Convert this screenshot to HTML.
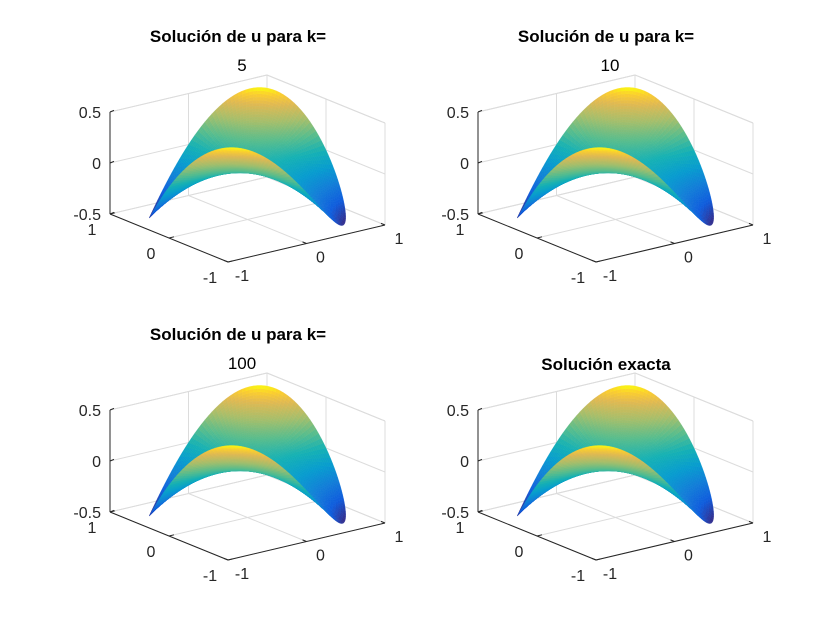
<!DOCTYPE html>
<html><head><meta charset="utf-8"><style>
body{margin:0;background:#fff;}
svg{display:block;font-family:"Liberation Sans",Arial,sans-serif;}
</style></head><body>
<svg id="fig" width="840" height="630" viewBox="0 0 840 630"></svg>
<script>
// ---- data ----
const gridX = [-1, -0.5, 0, 0.5, 1];
const gridY = [-1, -0.5, 0, 0.5, 1];
// z values on grid (row = y index, col = x index)
const zGrid = [
  [ 1.00,  0.50, 0, -0.50, -1.00],
  [ 0.50,  0.25, 0, -0.25, -0.50],
  [ 0.00,  0.00, 0,  0.00,  0.00],
  [-0.50, -0.25, 0,  0.25,  0.50],
  [-1.00, -0.50, 0,  0.50,  1.00]
];
const xTicks = [-1, 0, 1];
const yTicks = [-1, 0, 1];
const zTicks = [-0.5, 0, 0.5];
const xTickLabels = ["-1", "0", "1"];
const yTickLabels = ["-1", "0", "1"];
const zTickLabels = ["-0.5", "0", "0.5"];
const panelTitles = ["Solución de u para k=", "Solución de u para k=", "Solución de u para k=", "Solución exacta"];
const panelSubtitles = ["5", "10", "100", ""];
// ---------------
const NS = "http://www.w3.org/2000/svg";
const svg = document.getElementById('fig');
function mk(tag, attrs, parent){const e=document.createElementNS(NS,tag);for(const k in attrs)e.setAttribute(k,attrs[k]);(parent||svg).appendChild(e);return e;}

const parula=[[0,53,42,135],[0.125,15,92,221],[0.25,18,125,216],[0.375,7,156,207],[0.5,21,177,180],[0.625,89,189,140],[0.75,165,190,107],[0.875,225,185,82],[0.95,252,206,46],[1,249,251,14]];
function cmap(t){t=Math.max(0,Math.min(1,t));for(let i=1;i<parula.length;i++){if(t<=parula[i][0]){const a=parula[i-1],b=parula[i];const f=(t-a[0])/(b[0]-a[0]);return `rgb(${Math.round(a[1]+f*(b[1]-a[1]))},${Math.round(a[2]+f*(b[2]-a[2]))},${Math.round(a[3]+f*(b[3]-a[3]))})`;}}return 'rgb(249,251,14)';}

function interpZ(x,y){
  const n=gridX.length;
  let i=0;while(i<n-2&&x>gridX[i+1])i++;
  let j=0;while(j<n-2&&y>gridY[j+1])j++;
  const tx=(x-gridX[i])/(gridX[i+1]-gridX[i]), ty=(y-gridY[j])/(gridY[j+1]-gridY[j]);
  const z00=zGrid[j][i],z10=zGrid[j][i+1],z01=zGrid[j+1][i],z11=zGrid[j+1][i+1];
  return z00*(1-tx)*(1-ty)+z10*tx*(1-ty)+z01*(1-tx)*ty+z11*tx*ty;
}

const zmin=-0.5,zmax=0.5;
function panel(idx,fx,fy,tcx,ty){
  const g=mk('g',{});
  
  
  const P=(x,y,z)=>[fx+78.5*(x+1)-59*(y+1), fy-18.5*(x+1)-24*(y+1)-102*(z-zmin)];
  const line=(a,b,col,w,name)=>{const l=mk('line',{x1:a[0],y1:a[1],x2:b[0],y2:b[1],stroke:col,'stroke-width':w},g);return l;};
  const gc='#dcdcdc';
  xTicks.forEach(x=>{line(P(x,-1,zmin),P(x,1,zmin),gc,1,'floor-grid-x');line(P(x,1,zmin),P(x,1,zmax),gc,1,'wall-grid-x');});
  yTicks.forEach(y=>{line(P(-1,y,zmin),P(1,y,zmin),gc,1,'floor-grid-y');line(P(1,y,zmin),P(1,y,zmax),gc,1,'wall-grid-y');});
  zTicks.forEach(z=>{line(P(-1,1,z),P(1,1,z),gc,1,'wall-grid-z');line(P(1,1,z),P(1,-1,z),gc,1,'wall-grid-z');});
  line(P(-1,1,zmax),P(1,1,zmax),gc,1,'box-edge');line(P(1,1,zmax),P(1,-1,zmax),gc,1,'box-edge');
  line(P(1,-1,zmin),P(1,-1,zmax),gc,1,'box-edge');
  // surface
  const NR=40,NT=160,quads=[];
  for(let a=0;a<NR;a++)for(let b=0;b<NT;b++){
    const r0=a/NR,r1=(a+1)/NR,t0=b/NT*2*Math.PI,t1=(b+1)/NT*2*Math.PI;
    const pts=[[r0,t0],[r1,t0],[r1,t1],[r0,t1]].map(([r,t])=>{const x=r*Math.cos(t),y=r*Math.sin(t);return [x,y,interpZ(x,y)];});
    let mx=0,my=0,mz=0;pts.forEach(p=>{mx+=p[0]/4;my+=p[1]/4;mz+=p[2]/4;});
    quads.push({pts,d:-0.53*mx-0.68*my+1.0*mz,z:mz});
  }
  quads.sort((p,q)=>p.d-q.d);
  const sg=mk('g',{},g);
  
  
  quads.forEach(q=>{
    const c=cmap((q.z-zmin)/(zmax-zmin));
    const p=mk('polygon',{points:q.pts.map(pt=>P(pt[0],pt[1],pt[2]).map(v=>v.toFixed(2)).join(',')).join(' '),fill:c,stroke:c,'stroke-width':0.35},sg);
    
    
  });
  line(P(-1,1,zmin),P(-1,1,zmax),'#262626',1,'z-axis');
  line(P(-1,1,zmin),P(-1,-1,zmin),'#262626',1,'y-axis');
  line(P(-1,-1,zmin),P(1,-1,zmin),'#262626',1,'x-axis');
  const txt=(s,x,y,anchor,name,extra)=>{const t=mk('text',Object.assign({x,y,'text-anchor':anchor,'font-size':16,fill:'#262626'},extra||{}),g);t.textContent=s;return t;};
  zTicks.forEach((z,i)=>{const p=P(-1,1,z);line(p,[p[0]+4,p[1]-1.6],'#262626',1,'z-tick');txt(zTickLabels[i],p[0]-9,p[1]+6,'end','z-tick-label');});
  yTicks.forEach((y,i)=>{const p=P(-1,y,zmin);line(p,[p[0]+5,p[1]-1.2],'#262626',1,'y-tick');txt(yTickLabels[i],p[0]-18,p[1]+21,'middle','y-tick-label');});
  xTicks.forEach((x,i)=>{const p=P(x,-1,zmin);line(p,[p[0]-4,p[1]-1.6],'#262626',1,'x-tick');txt(xTickLabels[i],p[0]+14,p[1]+19,'middle','x-tick-label');});
  txt(panelTitles[idx],tcx,ty,'middle','panel-title',{'font-weight':'bold','font-size':17,fill:'#000'});
  if(panelSubtitles[idx])txt(panelSubtitles[idx],tcx+4,ty+29,'middle','panel-subtitle',{'font-size':17,fill:'#000'});
}
panel(0,228,262,238,42);
panel(1,596,262,606,42);
panel(2,228,560,238,340);
panel(3,596,560,606,370);
</script>
</body></html>
